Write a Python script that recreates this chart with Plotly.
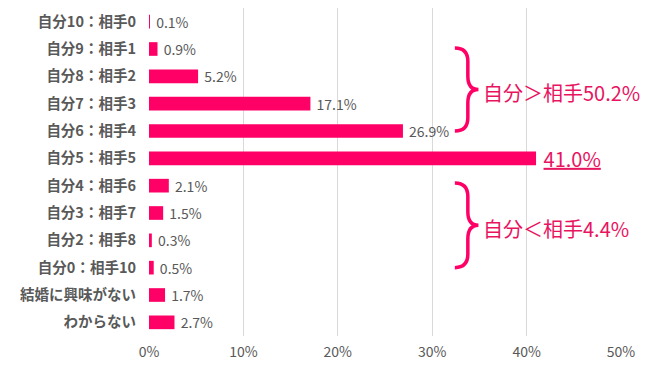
import plotly.graph_objects as go

categories = ["自分10：相手0", "自分9：相手1", "自分8：相手2", "自分7：相手3",
              "自分6：相手4", "自分5：相手5", "自分4：相手6", "自分3：相手7",
              "自分2：相手8", "自分0：相手10", "結婚に興味がない", "わからない"]
values = [0.1, 0.9, 5.2, 17.1, 26.9, 41.0, 2.1, 1.5, 0.3, 0.5, 1.7, 2.7]
x_ticks = [0, 10, 20, 30, 40, 50]
highlight = "自分5：相手5"
group_more = ["自分10：相手0", "自分9：相手1", "自分8：相手2", "自分7：相手3", "自分6：相手4"]
group_less = ["自分4：相手6", "自分3：相手7", "自分2：相手8", "自分0：相手10"]

BAR = "#FF0066"
ACCENT = "#E8145F"
GREY = "#595959"
FONT = "Noto Sans CJK JP"

idx = list(range(len(categories)))
texts, sizes, colors = [], [], []
for c, v in zip(categories, values):
    if c == highlight:
        texts.append(f" <u>{v:.1f}%</u>")
        sizes.append(20)
        colors.append(ACCENT)
    else:
        texts.append(f" {v:.1f}%")
        sizes.append(14)
        colors.append(GREY)

fig = go.Figure(go.Bar(
    x=values, y=idx, orientation="h", width=0.5,
    marker=dict(color=BAR, line=dict(width=0)),
    text=texts, textposition="outside", cliponaxis=False, constraintext="none",
    textfont=dict(size=sizes, color=colors, family=FONT),
    hoverinfo="skip",
))


def brace_path(x0, w, y0, y1):
    xm = x0 + 0.55 * w
    xb = x0 + w
    ym = (y0 + y1) / 2
    ry = 0.16 * (y1 - y0)
    return (f"M {x0},{y0} Q {xm},{y0} {xm},{y0 + ry} L {xm},{ym - ry} "
            f"Q {xm},{ym} {xb},{ym} Q {xm},{ym} {xm},{ym + ry} "
            f"L {xm},{y1 - ry} Q {xm},{y1} {x0},{y1}")


braces = [
    (idx[categories.index(group_more[1])] - 0.04, idx[categories.index(group_more[-1])],
     sum(values[categories.index(c)] for c in group_more), "＞"),
    (idx[categories.index(group_less[0])] - 0.1, idx[categories.index(group_less[-1])],
     sum(values[categories.index(c)] for c in group_less), "＜"),
]
BX, BW = 32.4, 2.5
for y0, y1, total, sym in braces:
    fig.add_shape(type="path", path=brace_path(BX, BW, y0, y1), xref="x", yref="y",
                  line=dict(color=BAR, width=3.5))
    fig.add_annotation(x=BX + BW + 0.3, y=(y0 + y1) / 2 + 0.1, xref="x", yref="y",
                       text=f"自分{sym}相手{total:.1f}%", showarrow=False,
                       xanchor="left", yanchor="middle",
                       font=dict(size=20, color=ACCENT, family=FONT))

# page body has an 8px margin: figure is sized/offset to compensate
fig.update_layout(
    width=642, height=362,
    margin=dict(l=141, r=29, t=0, b=34),
    paper_bgcolor="white", plot_bgcolor="white",
    showlegend=False,
    font=dict(family=FONT, color=GREY),
    xaxis=dict(range=[0, 50], tickvals=x_ticks, ticktext=[f"{t}%" for t in x_ticks],
               showgrid=True, gridcolor="#D9D9D9", gridwidth=1, zeroline=False,
               showline=False, ticklabelstandoff=6,
               tickfont=dict(size=14, color=GREY, family=FONT),
               fixedrange=True),
    yaxis=dict(range=[len(categories) - 0.5, -0.5], tickvals=idx,
               ticktext=[f"<b>{c}</b>" for c in categories],
               showgrid=False, zeroline=False, showline=False,
               ticklabelstandoff=12,
               tickfont=dict(size=14.5, color=GREY, family=FONT), fixedrange=True),
)

fig.write_html("out.html")
